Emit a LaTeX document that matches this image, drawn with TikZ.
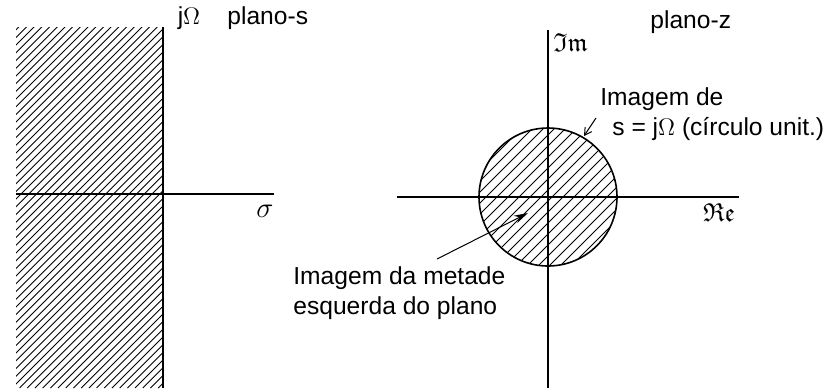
\documentclass[tikz,border=0pt]{standalone}
\usepackage{amsmath, amsfonts, amssymb}
\usepackage{fontspec}
\setmainfont{Liberation Sans}
\usetikzlibrary{arrows.meta, positioning}

\begin{document}
\begin{tikzpicture}[x=0.5pt, y=-0.5pt,
    axis/.style={line width=0.8pt},
    hatch/.style={line width=0.45pt},
    lbl/.style={font=\fontsize{12.3}{15}\selectfont, inner sep=0pt, align=left},
    mlbl/.style={font=\fontsize{13}{15}\selectfont, inner sep=0pt}]
  \useasboundingbox (0,0) rectangle (832,388);

  % s-plane
  \begin{scope}
    \begin{scope}
      \clip (16,27) rectangle (163,388);
      \foreach \i in {-350,-342.3,...,170}
        \draw[hatch] (\i,388) -- ++(400,-400);
    \end{scope}
    \draw[axis] (163,388) -- (163,27);
    \draw[axis] (16,194) -- (274,194);
    \node[mlbl, font=\fontsize{15}{16}\selectfont] (sigma) at (265,211) {$\sigma$};
    \node[lbl] (jomega) at (189,18) {j$\Omega$};
    \node[lbl, anchor=west] (splane) at (227,18) {plano-s};
  \end{scope}

  % z-plane
  \begin{scope}
    \begin{scope}
      \clip (548,197) circle (69);
      \foreach \i in {340,351,...,630}
        \draw[hatch] (\i,266) -- ++(200,-200);
    \end{scope}
    \draw[axis] (548,197) circle (69);
    \draw[axis] (548,388) -- (548,30);
    \draw[axis] (397,197) -- (739,197);
    \node[mlbl, anchor=west] (imax) at (553,43) {$\mathfrak{Im}$};
    \node[mlbl] (reax) at (719,213) {$\mathfrak{Re}$};
    \node[lbl, anchor=west] (zplane) at (650,22) {plano-z};
    \node[lbl, anchor=north west] (unitcirc) at (600,87)
      {Imagem de\\\hspace*{6pt}s = j$\Omega$ (círculo unit.)};
    \node[lbl, anchor=north west] (lefthalf) at (293,266)
      {Imagem da metade\\esquerda do plano};
    \coordinate (circtail) at (596,118);
    \coordinate (circtip) at (584,136);
    \coordinate (halftail) at (437,259);
    \coordinate (halftip) at (528,213);
    \draw[line width=0.5pt, -{Straight Barb[length=3.5pt,width=4pt]}] (circtail) -- (circtip);
    \draw[line width=0.5pt, -{Stealth[length=7pt,width=4pt]}] (halftail) -- (halftip);
  \end{scope}
\end{tikzpicture}
\end{document}
